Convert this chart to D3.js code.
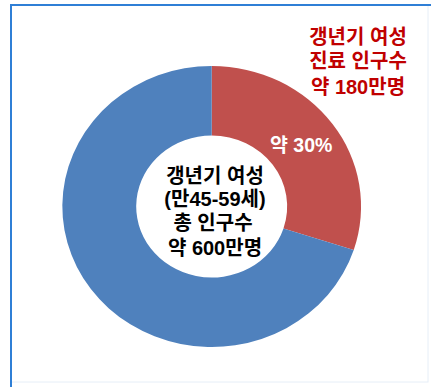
<!DOCTYPE html>
<html>
<head>
<meta charset="utf-8">
<script src="https://cdn.jsdelivr.net/npm/d3@7/dist/d3.min.js"></script>
<style>
  html, body { margin: 0; padding: 0; background: #fff; }
  svg { display: block; }
  text { font-family: "Liberation Sans", "Noto Sans CJK KR", sans-serif; font-weight: 700; }
</style>
</head>
<body>
<script>
// Menopausal women (45-59): treated vs. the rest of the population (만명)
const categories = ["진료 인구", "기타"];
const values = [180, 420];
const colors = ["#c0504d", "#4f81bd"];
const sliceLabel = "약 30%";
const centerLines = ["갱년기 여성", "(만45-59세)", "총 인구수", "약 600만명"];
const calloutLines = ["갱년기 여성", "진료 인구수", "약 180만명"];

const W = 431, H = 387;
const cx = 211.7, cy = 206.5;
const rOuter = 140.5, rInner = 71;
const xStretch = 1.063;

const svg = d3.select("body").append("svg")
  .attr("width", W).attr("height", H);

// frame
svg.append("rect")
  .attr("x", 11).attr("y", 5).attr("width", 417).attr("height", 377)
  .attr("fill", "#fff").attr("stroke", "#e6eef7").attr("stroke-width", 1);
svg.append("path")
  .attr("d", `M11,${H} L11,5 L${W},5`)
  .attr("fill", "none").attr("stroke", "#2f7fd6").attr("stroke-width", 2);

const pie = d3.pie().sort(null).value(d => d);
const arcs = pie(values);
const arc = d3.arc().innerRadius(rInner).outerRadius(rOuter);

const g = svg.append("g")
  .attr("transform", `translate(${cx},${cy}) scale(${xStretch},1)`);

g.selectAll("path.slice")
  .data(arcs)
  .join("path")
  .attr("class", "slice")
  .attr("d", arc)
  .attr("fill", (d, i) => colors[i])
  .attr("data-category", (d, i) => categories[i]);

// percentage label on the red slice
const labelArc = d3.arc().innerRadius(104).outerRadius(104);
const [lx, ly] = labelArc.centroid(arcs[0]);
svg.append("text")
  .attr("x", cx + lx * xStretch)
  .attr("y", cy + ly)
  .attr("text-anchor", "middle")
  .attr("dominant-baseline", "central")
  .attr("fill", "#fff")
  .attr("font-size", 19.5)
  .text(sliceLabel);

// centre text
const centerY = [176, 199, 223, 248];
svg.append("g").selectAll("text")
  .data(centerLines)
  .join("text")
  .attr("x", (d, i) => i === 2 ? 213 : 215)
  .attr("y", (d, i) => centerY[i])
  .attr("text-anchor", "middle")
  .attr("dominant-baseline", "central")
  .attr("fill", "#000")
  .attr("font-size", 20)
  .text(d => d);

// callout at top right
const calloutY = [37, 61, 87];
svg.append("g").selectAll("text")
  .data(calloutLines)
  .join("text")
  .attr("x", 358)
  .attr("y", (d, i) => calloutY[i])
  .attr("text-anchor", "middle")
  .attr("dominant-baseline", "central")
  .attr("fill", "#c00000")
  .attr("font-size", 20)
  .text(d => d);
</script>
</body>
</html>
